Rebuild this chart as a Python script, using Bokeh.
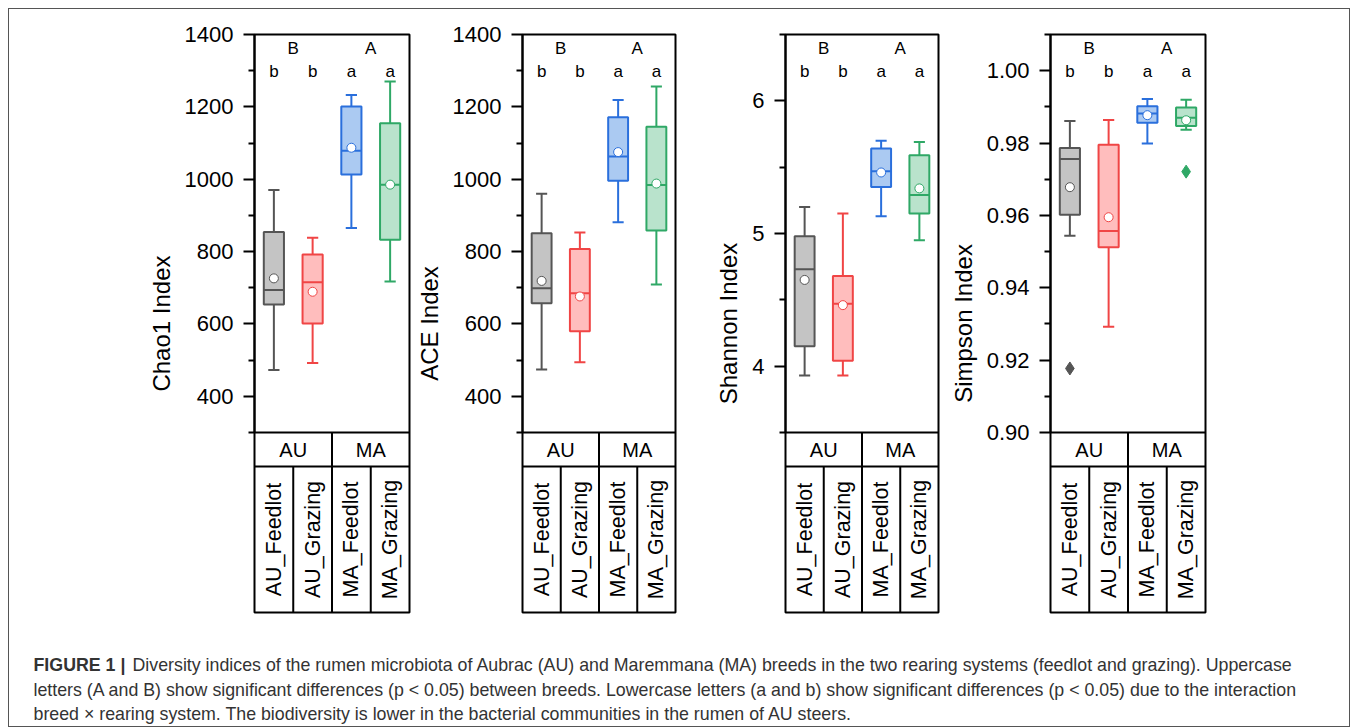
from bokeh.plotting import figure
from bokeh.layouts import row, column
from bokeh.models import Range1d, FixedTicker, PrintfTickFormatter, ColumnDataSource
from bokeh.embed import file_html
from bokeh.resources import INLINE
from bokeh.core.properties import value

# ---------------- data ----------------
groups = ["AU_Feedlot", "AU_Grazing", "MA_Feedlot", "MA_Grazing"]
breeds = ["AU", "MA"]
lower_letters = ["b", "b", "a", "a"]
upper_letters = ["B", "A"]

chao1_low = [473, 492, 865, 717]
chao1_q1 = [654, 601, 1013, 833]
chao1_med = [694, 715, 1079, 985]
chao1_q3 = [854, 792, 1201, 1155]
chao1_high = [970, 838, 1233, 1270]
chao1_mean = [726, 689, 1087, 985]

ace_low = [474, 494, 881, 709]
ace_q1 = [657, 580, 996, 858]
ace_med = [699, 685, 1063, 984]
ace_q3 = [851, 807, 1171, 1145]
ace_high = [960, 853, 1219, 1256]
ace_mean = [719, 676, 1075, 988]

shannon_low = [3.93, 3.93, 5.13, 4.95]
shannon_q1 = [4.15, 4.04, 5.35, 5.15]
shannon_med = [4.73, 4.47, 5.47, 5.29]
shannon_q3 = [4.98, 4.68, 5.64, 5.59]
shannon_high = [5.20, 5.15, 5.70, 5.69]
shannon_mean = [4.65, 4.46, 5.46, 5.34]

simpson_low = [0.9544, 0.9292, 0.9799, 0.9837]
simpson_q1 = [0.9602, 0.9512, 0.9856, 0.9847]
simpson_med = [0.9756, 0.9557, 0.9882, 0.9870]
simpson_q3 = [0.9786, 0.9795, 0.9902, 0.9898]
simpson_high = [0.9861, 0.9864, 0.9922, 0.9920]
simpson_mean = [0.9678, 0.9595, 0.9877, 0.9863]
simpson_outlier_group = [0, 3]
simpson_outlier_value = [0.9177, 0.9721]

caption_bold = "FIGURE 1 |"
caption_lines = [
    "Diversity indices of the rumen microbiota of Aubrac (AU) and Maremmana (MA) breeds in the two rearing systems (feedlot and grazing). Uppercase",
    "letters (A and B) show significant differences (p < 0.05) between breeds. Lowercase letters (a and b) show significant differences (p < 0.05) due to the interaction",
    "breed \u00d7 rearing system. The biodiversity is lower in the bacterial communities in the rumen of AU steers.",
]

# ---------------- style ----------------
line_colors = ["#555555", "#f04545", "#2a6fdc", "#2fa866"]
fill_colors = ["#c4c4c4", "#ffbdbd", "#abcaf2", "#b9e3cc"]
FONT = "Liberation Sans"
PLOT_H = 398     # px of the box area
FRAME_H = 578    # px of box area + category table
TOP_PAD = 25
BOT_PAD = 20

panels = [
    dict(title="Chao1 Index", lo=300, hi=1400, major=[400, 600, 800, 1000, 1200, 1400],
         minor=[300, 500, 700, 900, 1100, 1300], fmt=None,
         low=chao1_low, q1=chao1_q1, med=chao1_med, q3=chao1_q3, high=chao1_high, mean=chao1_mean,
         ox=[], oy=[], width=403, ml=245, mr=3),
    dict(title="ACE Index", lo=300, hi=1400, major=[400, 600, 800, 1000, 1200, 1400],
         minor=[300, 500, 700, 900, 1100, 1300], fmt=None,
         low=ace_low, q1=ace_q1, med=ace_med, q3=ace_q3, high=ace_high, mean=ace_mean,
         ox=[], oy=[], width=278, ml=108, mr=15),
    dict(title="Shannon Index", lo=3.5, hi=6.5, major=[4, 5, 6],
         minor=[3.5, 4.5, 5.5, 6.5], fmt=None,
         low=shannon_low, q1=shannon_q1, med=shannon_med, q3=shannon_q3, high=shannon_high, mean=shannon_mean,
         ox=[], oy=[], width=255, ml=95, mr=7),
    dict(title="Simpson Index", lo=0.90, hi=1.01, major=[0.90, 0.92, 0.94, 0.96, 0.98, 1.00],
         minor=[0.91, 0.93, 0.95, 0.97, 0.99, 1.01], fmt="%.2f",
         low=simpson_low, q1=simpson_q1, med=simpson_med, q3=simpson_q3, high=simpson_high, mean=simpson_mean,
         ox=[g + 1 for g in simpson_outlier_group], oy=simpson_outlier_value, width=404, ml=105, mr=144),
]

BOX_W = 0.52
CAP_W = 0.29


def make_panel(pd):
    lo, hi = pd["lo"], pd["hi"]
    upp = (hi - lo) / PLOT_H           # data units per pixel

    def at(dpx):                       # pixel offset from frame top -> data value
        return hi - dpx * upp

    ystart = at(FRAME_H)
    p = figure(width=pd["width"], height=TOP_PAD + FRAME_H + BOT_PAD,
               x_range=Range1d(0.5, 4.5), y_range=Range1d(ystart, hi),
               output_backend="svg", toolbar_location=None, x_axis_location=None,
               min_border_left=pd["ml"], min_border_right=pd["mr"],
               min_border_top=TOP_PAD, min_border_bottom=BOT_PAD)
    p.xgrid.visible = False
    p.ygrid.visible = False
    p.outline_line_color = "black"
    p.outline_line_width = 2
    p.outline_line_alpha = 1
    p.background_fill_color = "white"
    p.border_fill_color = "white"

    ax = p.yaxis[0]
    ax.bounds = (lo, hi)
    ax.ticker = FixedTicker(ticks=pd["major"], minor_ticks=pd["minor"])
    if pd["fmt"]:
        ax.formatter = PrintfTickFormatter(format=pd["fmt"])
    ax.axis_label = pd["title"]
    ax.axis_label_text_font = FONT
    ax.axis_label_text_font_size = "24px"
    ax.axis_label_text_font_style = "normal"
    ax.axis_label_text_color = "black"
    ax.axis_label_standoff = 7
    ax.major_label_text_font = FONT
    ax.major_label_text_font_size = "22px"
    ax.major_label_text_color = "black"
    ax.major_label_standoff = 10
    ax.axis_line_color = "black"
    ax.axis_line_width = 2
    ax.major_tick_line_color = "black"
    ax.major_tick_line_width = 2
    ax.major_tick_out = 11
    ax.major_tick_in = 0
    ax.minor_tick_line_color = "black"
    ax.minor_tick_line_width = 2
    ax.minor_tick_out = 6
    ax.minor_tick_in = 0

    xs = [1, 2, 3, 4]
    src = ColumnDataSource(dict(
        x=xs, low=pd["low"], q1=pd["q1"], med=pd["med"], q3=pd["q3"], high=pd["high"], mean=pd["mean"],
        xl=[x - BOX_W / 2 for x in xs], xr=[x + BOX_W / 2 for x in xs],
        cl=[x - CAP_W / 2 for x in xs], cr=[x + CAP_W / 2 for x in xs],
        lc=line_colors, fc=fill_colors))
    # whiskers
    p.segment(x0="x", y0="q3", x1="x", y1="high", source=src, line_color="lc", line_width=2)
    p.segment(x0="x", y0="q1", x1="x", y1="low", source=src, line_color="lc", line_width=2)
    p.segment(x0="cl", y0="high", x1="cr", y1="high", source=src, line_color="lc", line_width=2)
    p.segment(x0="cl", y0="low", x1="cr", y1="low", source=src, line_color="lc", line_width=2)
    # boxes
    p.vbar(x="x", top="q3", bottom="q1", width=BOX_W, source=src,
           fill_color="fc", line_color="lc", line_width=2)
    p.segment(x0="xl", y0="med", x1="xr", y1="med", source=src, line_color="lc", line_width=2)
    # means
    p.scatter(x="x", y="mean", source=src, marker="circle", size=9,
              fill_color="white", line_color="lc", line_width=1)
    # outliers
    if pd["ox"]:
        osrc = ColumnDataSource(dict(x=pd["ox"], y=pd["oy"],
                                     c=[line_colors[i - 1] for i in pd["ox"]]))
        p.scatter(x="x", y="y", source=osrc, marker="diamond", size=13,
                  fill_color="c", line_color="c")

    # significance letters
    p.text(x=[1.5, 3.5], y=[at(14)] * 2, text=upper_letters, text_font=value(FONT),
           text_font_size="17px", text_align="center", text_baseline="middle", text_color="black")
    p.text(x=xs, y=[at(37)] * 4, text=lower_letters, text_font=value(FONT),
           text_font_size="17px", text_align="center", text_baseline="middle", text_color="black")

    # category table
    y1 = at(PLOT_H)
    y2 = at(PLOT_H + 34)
    y3 = ystart
    p.segment(x0=[0.5, 0.5, 2.5, 1.5, 3.5], y0=[y1, y2, y1, y2, y2],
              x1=[4.5, 4.5, 2.5, 1.5, 3.5], y1=[y1, y2, y3, y3, y3],
              line_color="black", line_width=2)
    p.text(x=[1.5, 3.5], y=[at(PLOT_H + 17)] * 2, text=breeds, text_font=value(FONT),
           text_font_size="20px", text_align="center", text_baseline="middle", text_color="black")
    p.text(x=xs, y=[at(PLOT_H + 34 + 73)] * 4, text=groups, text_font=value(FONT),
           text_font_size="21.5px", text_align="center", text_baseline="middle",
           angle=1.5707963, text_color="black")
    return p


figs = [make_panel(pd) for pd in panels]

CAP_W_PX = 1340
CAP_H_PX = 94
cap = figure(width=CAP_W_PX, height=CAP_H_PX, x_range=Range1d(0, CAP_W_PX), y_range=Range1d(CAP_H_PX, 0),
             output_backend="svg", toolbar_location=None, x_axis_location=None, y_axis_location=None,
             min_border=0)
cap.xgrid.visible = False
cap.ygrid.visible = False
cap.outline_line_color = None
cap.text(x=[24], y=[32], text=[caption_bold], text_font=value(FONT), text_font_style="bold",
         text_font_size="17.8px", text_baseline="alphabetic", text_color="#333333")
cap.text(x=[123, 24, 24], y=[32, 57, 81], text=caption_lines, text_font=value(FONT),
         text_font_size="17.8px", text_baseline="alphabetic", text_color="#333333")

layout = column(row(*figs), cap, styles={"border": "1px solid #555555", "margin": "8px"})

open("out.html", "w").write(file_html(layout, INLINE))
